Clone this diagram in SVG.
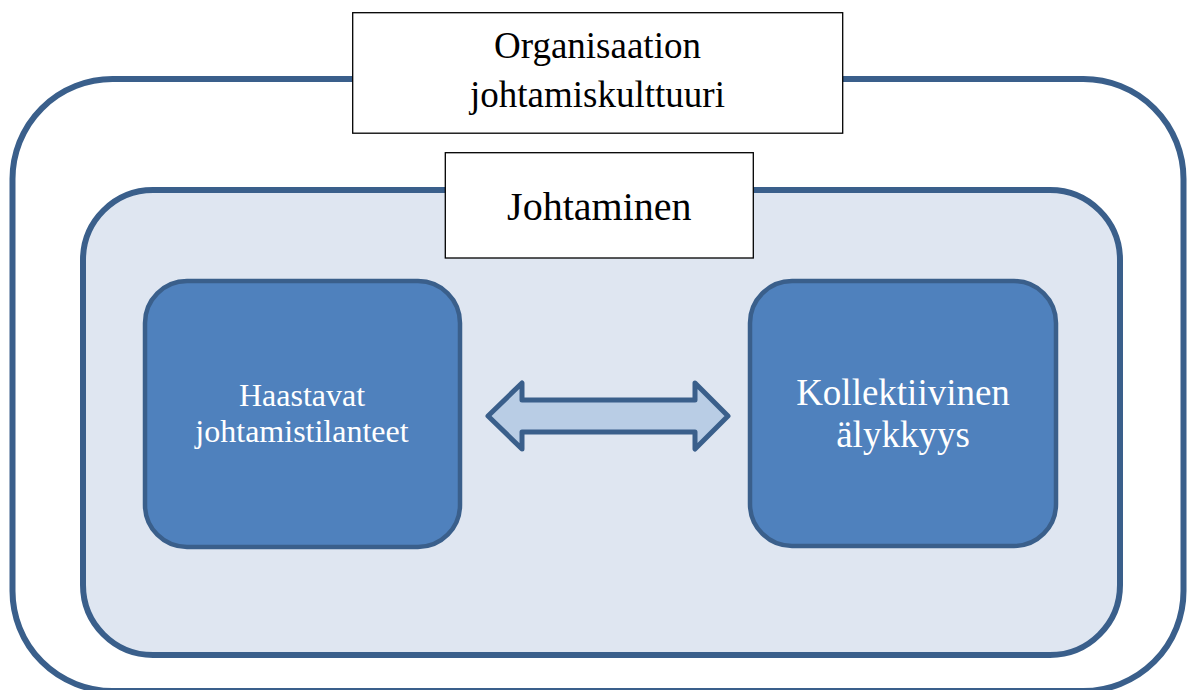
<svg xmlns="http://www.w3.org/2000/svg" width="1187" height="690" viewBox="0 0 1187 690">
<style>
.frame{stroke:#3a5f8b;stroke-width:6;}
.node{fill:#4f81bd;stroke:#3a5f8b;stroke-width:4.5;}
.label{fill:#ffffff;font-family:"Liberation Serif","Times New Roman",serif;text-anchor:middle;}
.title{fill:#000000;font-family:"Liberation Serif","Times New Roman",serif;text-anchor:middle;}
.tbox{fill:#ffffff;stroke:#000000;stroke-width:1.3;}
.arrow{fill:#b9cde5;stroke:#3a5f8b;stroke-width:5;stroke-linejoin:round;}
</style>
<rect width="1187" height="690" fill="#ffffff"/>
<g id="outer">
<rect class="frame" x="12.5" y="79" width="1171" height="612" rx="100" ry="100" fill="#ffffff"/>
</g>
<g id="inner">
<rect class="frame" x="83" y="190" width="1037" height="465" rx="70" ry="70" fill="#dfe6f1"/>
</g>
<g id="title-org">
<rect class="tbox" x="352.7" y="12.7" width="490" height="120.5"/>
<text class="title" x="597.5" y="58" font-size="37">Organisaation</text>
<text class="title" x="597.5" y="107" font-size="37">johtamiskulttuuri</text>
</g>
<g id="title-johtaminen">
<rect class="tbox" x="445.3" y="152.7" width="308" height="105.3"/>
<text class="title" x="599.3" y="220" font-size="40">Johtaminen</text>
</g>
<g id="node-haastavat">
<rect class="node" x="145" y="281" width="315" height="266" rx="42" ry="42"/>
<text class="label" x="302" y="406" font-size="32">Haastavat</text>
<text class="label" x="302" y="442" font-size="32">johtamistilanteet</text>
</g>
<g id="node-kollektiivinen">
<rect class="node" x="750" y="281" width="306" height="265" rx="42" ry="42"/>
<text class="label" x="903" y="405" font-size="37">Kollektiivinen</text>
<text class="label" x="903" y="447" font-size="37">älykkyys</text>
</g>
<g id="connectors">
<path class="arrow" d="M488,416 L522,383 L522,400 L695,400 L695,383 L728,416 L695,449 L695,432 L522,432 L522,449 Z"/>
</g>
</svg>
